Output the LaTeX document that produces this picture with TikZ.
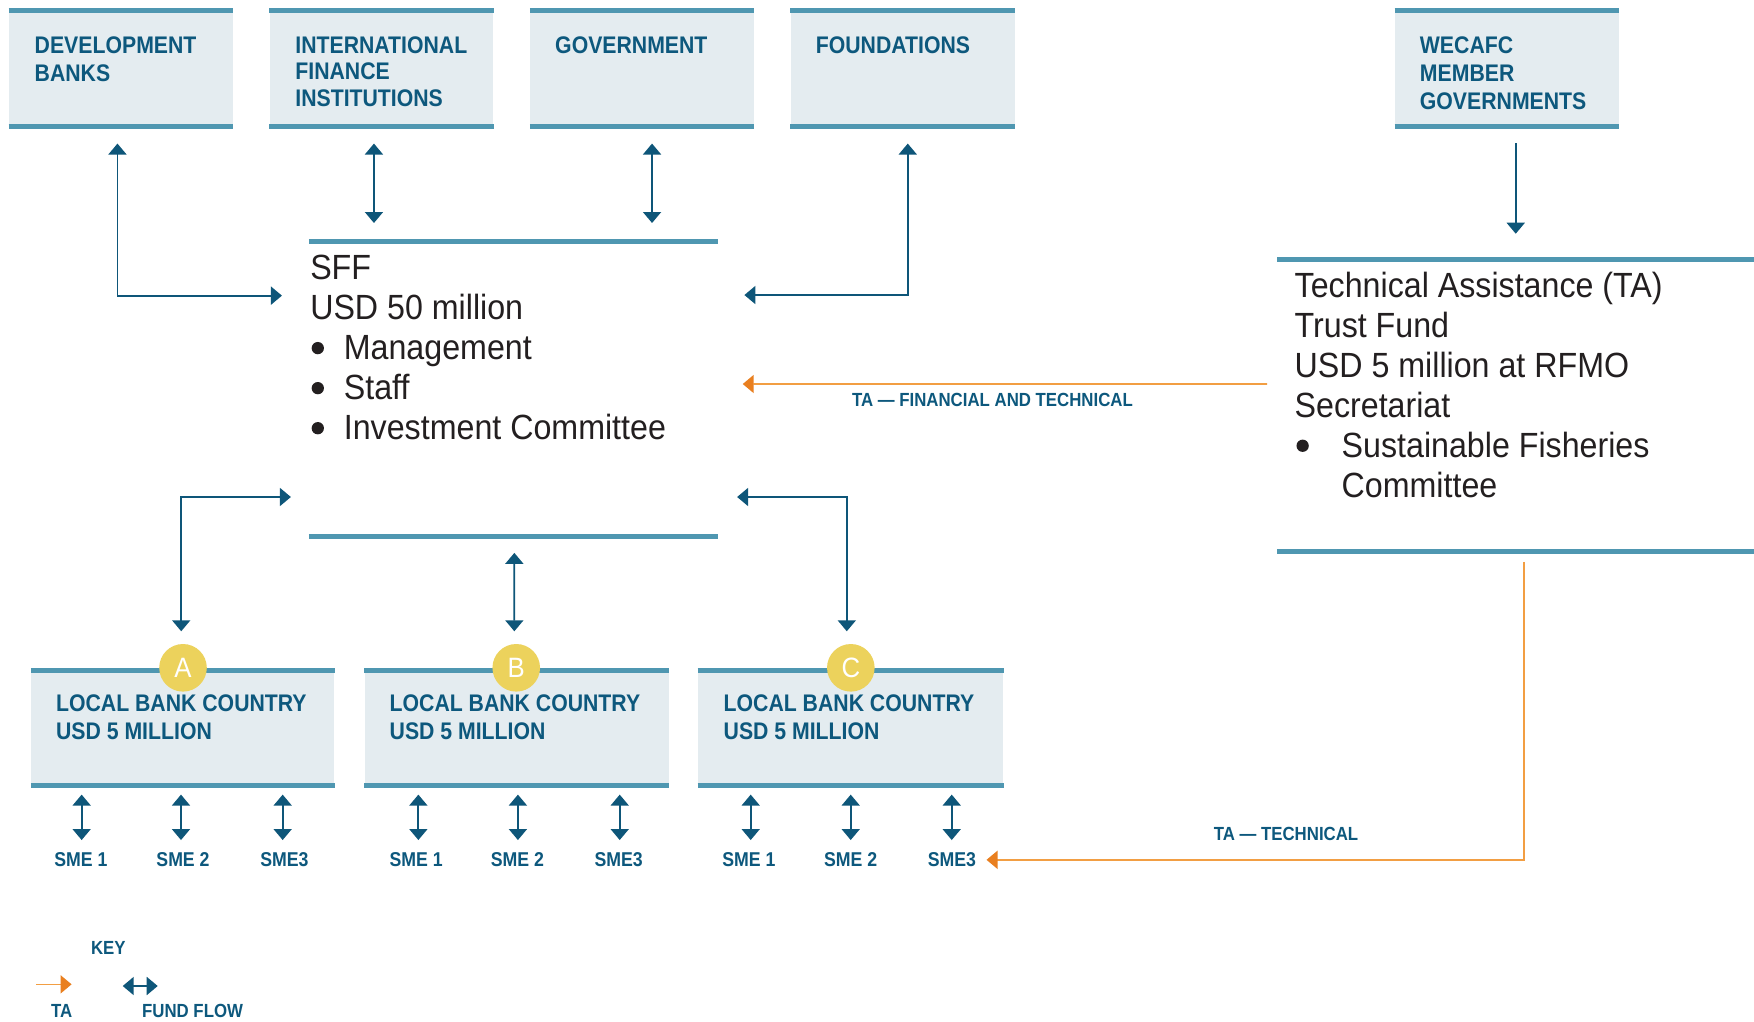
\documentclass[tikz,border=0pt]{standalone}
\usepackage{fontspec}
\setmainfont{Liberation Sans}[FakeStretch=0.92]
\newfontfamily\condfont{Liberation Sans}[FakeStretch=0.885]
\usetikzlibrary{arrows.meta,fit,calc}
\definecolor{boxfill}{HTML}{E4ECF0}
\definecolor{barteal}{HTML}{4F97B1}
\definecolor{hdrblue}{HTML}{0D587D}
\definecolor{arrowblue}{HTML}{0E5679}
\definecolor{taline}{HTML}{F29E43}
\definecolor{tatip}{HTML}{E97F1F}
\definecolor{sunny}{HTML}{ECD25C}
\definecolor{bodyblack}{HTML}{231F20}
\newcommand\mlines[1]{\begin{tabular}[t]{@{}l@{}}#1\end{tabular}}
\tikzset{
  boxarea/.style={inner sep=0pt, fill=boxfill, draw=none},
  blank/.style={inner sep=0pt, draw=none},
  bar/.style={draw=barteal, line width=2.5pt, line cap=butt},
  hdr/.style={font=\condfont\bfseries\fontsize{12}{14}\selectfont, text=hdrblue, inner sep=0pt, anchor=base west},
  body/.style={font=\fontsize{17.5}{20}\selectfont, text=bodyblack, inner sep=0pt, anchor=base west},
  small/.style={font=\condfont\bfseries\fontsize{9.5}{11}\selectfont, text=hdrblue, inner sep=0pt, anchor=base west},
  smelbl/.style={font=\condfont\bfseries\fontsize{10}{11}\selectfont, text=hdrblue, inner sep=0pt, anchor=base},
  badge/.style={circle, fill=sunny, minimum size=23.8pt, inner sep=0pt, text=white, font=\fontsize{14}{14}\selectfont},
  dot/.style={fill=bodyblack},
  bluetip/.tip={Triangle[width=9pt,length=5.5pt]},
  fund/.style={draw=arrowblue, fill=none, line width=0.9pt, -{bluetip[fill=arrowblue]}},
  fundboth/.style={draw=arrowblue, fill=none, line width=0.9pt, {bluetip[fill=arrowblue]}-{bluetip[fill=arrowblue]}},
  ta/.style={draw=taline, line width=0.8pt, -{Triangle[width=9pt,length=5.5pt,fill=tatip,color=tatip]}},
}
\begin{document}
\begin{tikzpicture}[x=0.5593pt,y=-0.5593pt]
\useasboundingbox (0,0) rectangle (1568,913.6);
\fill[white] (0,0) rectangle (1568,913.6);

% top source boxes
\node[boxarea, fit={(8,10)(208,113)}] (db) {};
\node[boxarea, fit={(241,10)(441,113)}] (ifi) {};
\node[boxarea, fit={(474,10)(674,113)}] (gov) {};
\node[boxarea, fit={(707,10)(907,113)}] (fdn) {};
\node[boxarea, fit={(1247,10)(1447,113)}] (wec) {};
\foreach \b in {db,ifi,gov,fdn,wec}{
  \draw[bar] (\b.north west) -- (\b.north east);
  \draw[bar] (\b.south west) -- (\b.south east);
}
\node[hdr] (dbt) at (30.7,47.7) {\mlines{DEVELOPMENT\\BANKS}};
\node[hdr, font=\condfont\bfseries\fontsize{12}{13.2}\selectfont] (ifit) at (263.7,47.7) {\mlines{INTERNATIONAL\\FINANCE\\INSTITUTIONS}};
\node[hdr] (govt) at (496,47.7) {GOVERNMENT};
\node[hdr] (fdnt) at (729,47.7) {FOUNDATIONS};
\node[hdr] (wect) at (1269,47.7) {\mlines{WECAFC\\MEMBER\\GOVERNMENTS}};

% SFF block
\node[blank, fit={(276.5,216.6)(641.6,478.9)}] (sff) {};
\draw[bar] (sff.north west) -- (sff.north east);
\draw[bar] (sff.south west) -- (sff.south east);
\node[body] (sfft) at (277,250.3) {\mlines{SFF\\USD 50 million\\
  \hspace{16.8pt}Management\\
  \hspace{16.8pt}Staff\\
  \hspace{16.8pt}Investment Committee}};
\foreach \dy in {60.9,96.7,132.5}{
  \fill[dot] ($(sfft.base west)+(7.1,\dy)$) circle[radius=5.5];
}

% TA trust fund block
\node[blank, fit={(1142,232)(1568,493)}] (ta) {};
\draw[bar] (ta.north west) -- (ta.north east);
\draw[bar] (ta.south west) -- (ta.south east);
\node[body] (tat) at (1157,266) {\mlines{Technical Assistance (TA)\\Trust Fund\\USD 5 million at RFMO\\Secretariat\\
  \hspace{23.5pt}Sustainable Fisheries\\
  \hspace{23.5pt}Committee}};
\fill[dot] ($(tat.base west)+(7.5,132.5)$) circle[radius=5.5];

% local bank boxes
\node[boxarea, fit={(28,600)(299,702)}] (lbA) {};
\node[boxarea, fit={(326,600)(598,702)}] (lbB) {};
\node[boxarea, fit={(624,600)(897,702)}] (lbC) {};
\foreach \b in {lbA,lbB,lbC}{
  \draw[bar] (\b.north west) -- (\b.north east);
  \draw[bar] (\b.south west) -- (\b.south east);
}
\node[hdr] (lbAt) at (49.8,636.2) {\mlines{LOCAL BANK COUNTRY\\USD 5 MILLION}};
\node[hdr] (lbBt) at (348,636.2) {\mlines{LOCAL BANK COUNTRY\\USD 5 MILLION}};
\node[hdr] (lbCt) at (646.6,636.2) {\mlines{LOCAL BANK COUNTRY\\USD 5 MILLION}};
\node[badge] (cA) at (163.6,597) {A};
\node[badge] (cB) at (461.5,597) {B};
\node[badge] (cC) at (760.6,597) {C};

% SME labels
\node[smelbl] (smeA1) at (72.3,774.8) {SME 1};
\node[smelbl] (smeA2) at (163.6,774.8) {SME 2};
\node[smelbl] (smeA3) at (254.3,774.8) {SME3};
\node[smelbl] (smeB1) at (372,774.8) {SME 1};
\node[smelbl] (smeB2) at (462.5,774.8) {SME 2};
\node[smelbl] (smeB3) at (553,774.8) {SME3};
\node[smelbl] (smeC1) at (669.5,774.8) {SME 1};
\node[smelbl] (smeC2) at (760.5,774.8) {SME 2};
\node[smelbl] (smeC3) at (851,774.8) {SME3};

% SME fund flows
\foreach \s/\b/\dx in {smeA1/lbA/0.7,smeA2/lbA/-1.8,smeA3/lbA/-1.6,
                       smeB1/lbB/2,smeB2/lbB/0.5,smeB3/lbB/1,
                       smeC1/lbC/1.6,smeC2/lbC/0,smeC3/lbC/-0.2}{
  \draw[fundboth] ($(\b.south -| \s)+(\dx,8)$) -- ($(\s.north)+(\dx,-11)$);
}

% connectors between sources and SFF
\coordinate (db-a) at ($(db.south)+(-3,15)$);
\coordinate (sff-l1) at ($(sff.west)+(-24.1,-83.45)$);
\draw[fundboth] (db-a) |- (sff-l1);

\coordinate (ifi-a) at ($(ifi.south)+(-6.7,15)$);
\coordinate (ifi-b) at ($(ifi.south)+(-6.7,86)$);
\draw[fundboth] (ifi-a) -- (ifi-b);

\coordinate (gov-a) at ($(gov.south)+(8.9,15)$);
\coordinate (gov-b) at ($(gov.south)+(8.9,86)$);
\draw[fundboth] (gov-a) -- (gov-b);

\coordinate (fdn-a) at ($(fdn.south)+(4.5,15)$);
\coordinate (sff-r1) at ($(sff.east)+(23.5,-84)$);
\draw[fundboth] (fdn-a) |- (sff-r1);

% WECAFC to TA
\coordinate (wec-a) at ($(wec.south)+(8,14.5)$);
\coordinate (ta-in) at ($(wec.south)+(8,95.6)$);
\draw[fund] (wec-a) -- (ta-in);

% TA financial and technical to SFF
\coordinate (ta-out1) at ($(ta.west)+(-9,-19.2)$);
\coordinate (sff-r2) at ($(sff.east)+(22,-4.45)$);
\draw[ta] (ta-out1) -- (sff-r2);
\node[small] (lblft) at (761.3,363.5) {TA — FINANCIAL AND TECHNICAL};

% SFF to local banks
\coordinate (sff-l2) at ($(sff.west)+(-16.1,96.55)$);
\coordinate (lbA-in) at ($(lbA.north)+(-1.5,-35.3)$);
\draw[fundboth] (sff-l2) -| (lbA-in);

\coordinate (sff-b) at ($(sff.south)+(0.75,15)$);
\coordinate (lbB-in) at ($(lbB.north)+(-2.2,-35.3)$);
\draw[fundboth] (sff-b) -- (lbB-in);

\coordinate (sff-r3) at ($(sff.east)+(17,96.55)$);
\coordinate (lbC-in) at ($(lbC.north)+(-3.5,-35.3)$);
\draw[fundboth] (sff-r3) -| (lbC-in);

% TA technical to SME3 of C
\coordinate (ta-out2) at ($(ta.south west)+(220.5,9)$);
\coordinate (smeC3-in) at ($(smeC3.east)+(9,0)$);
\draw[ta] (ta-out2) |- (smeC3-in);
\node[small] (lbltech) at (1084.7,751.8) {TA — TECHNICAL};

% key
\node[small] (keyt) at (81,853.7) {KEY};
\node[small] (keyta) at (45.3,909.8) {TA};
\node[small] (keyff) at (126.7,909.8) {FUND FLOW};
\coordinate (kta-a) at ($(keyta.west)+(-13.1,-24)$);
\coordinate (kta-b) at ($(keyta.west)+(18.7,-24)$);
\draw[ta] (kta-a) -- (kta-b);
\coordinate (kff-a) at ($(keyff.west)+(-17,-22.5)$);
\coordinate (kff-b) at ($(keyff.west)+(14.3,-22.5)$);
\draw[fundboth] (kff-a) -- (kff-b);
\end{tikzpicture}
\end{document}
